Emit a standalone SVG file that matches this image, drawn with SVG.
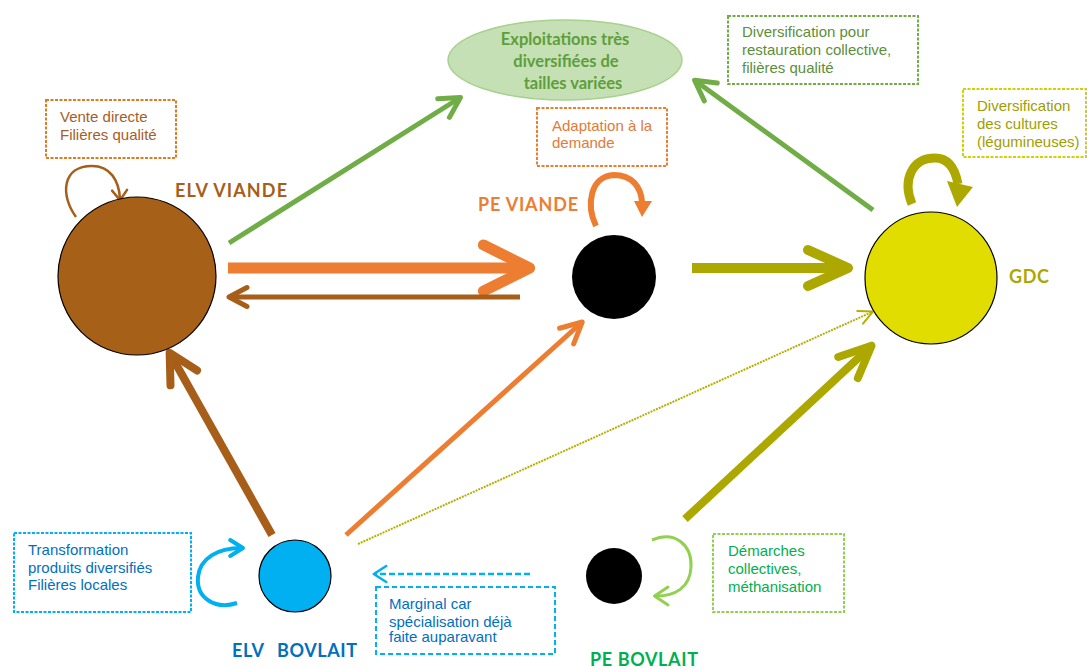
<svg xmlns="http://www.w3.org/2000/svg" width="1087" height="669" viewBox="0 0 1087 669">
<style>
.box{fill:none;stroke-width:2;stroke-dasharray:3 1.5}
.bt{font-family:"Liberation Sans",Arial,sans-serif;font-size:15px}
.lbl{font-family:Lato,"Open Sans",sans-serif;font-weight:bold;font-size:18px}
.ell{font-family:Lato,"Open Sans",sans-serif;font-weight:bold;font-size:16.5px;fill:#5E9E3B;text-anchor:middle}
.ln{fill:none;stroke-linecap:butt}
.loop{fill:none;stroke-linecap:butt}
</style>
<defs>
<marker id="ahGreen" viewBox="-6 -4 8 8" markerWidth="8" markerHeight="8" refX="-0.6" refY="0" orient="auto" markerUnits="strokeWidth"><path d="M -4 -2.2 L 0 0 L -4 2.2" fill="none" stroke="#70AD47" stroke-width="1" stroke-linecap="round" stroke-linejoin="round"/></marker>
<marker id="ahOrange" viewBox="-6 -4 8 8" markerWidth="8" markerHeight="8" refX="-0.6" refY="0" orient="auto" markerUnits="strokeWidth"><path d="M -4.2 -2.1 L 0 0 L -4.2 2.1" fill="none" stroke="#ED7D31" stroke-width="1" stroke-linecap="round" stroke-linejoin="round"/></marker>
<marker id="ahBrown" viewBox="-6 -4 8 8" markerWidth="8" markerHeight="8" refX="-0.6" refY="0" orient="auto" markerUnits="strokeWidth"><path d="M -3.6 -1.9 L 0 0 L -3.6 1.9" fill="none" stroke="#A65E18" stroke-width="1" stroke-linecap="round" stroke-linejoin="round"/></marker>
<marker id="ahOlive" viewBox="-6 -4 8 8" markerWidth="8" markerHeight="8" refX="-0.6" refY="0" orient="auto" markerUnits="strokeWidth"><path d="M -4 -1.8 L 0 0 L -4 1.8" fill="none" stroke="#ADA800" stroke-width="1" stroke-linecap="round" stroke-linejoin="round"/></marker>
<marker id="ahOliveThin" viewBox="-10 -6 12 12" markerWidth="12" markerHeight="12" refX="-0.5" refY="0" orient="auto" markerUnits="strokeWidth"><path d="M -7 -3.5 L 0 0 L -7 3.5" fill="none" stroke="#B5B000" stroke-width="1" stroke-linecap="round" stroke-linejoin="round"/></marker>
<marker id="ahBlue" viewBox="-10 -6 12 12" markerWidth="12" markerHeight="12" refX="-0.5" refY="0" orient="auto" markerUnits="strokeWidth"><path d="M -5 -3.2 L 0 0 L -5 3.2" fill="none" stroke="#00B0F0" stroke-width="1" stroke-linecap="round" stroke-linejoin="round"/></marker>
<marker id="ahLoopBrown" viewBox="-10 -6 12 12" markerWidth="12" markerHeight="12" refX="-0.5" refY="0" orient="auto" markerUnits="strokeWidth"><path d="M -4 -3 L 0 0 L -4 3" fill="none" stroke="#A65E18" stroke-width="1" stroke-linecap="round" stroke-linejoin="round"/></marker>
<marker id="ahLoopBlue" viewBox="-10 -6 12 12" markerWidth="12" markerHeight="12" refX="-0.5" refY="0" orient="auto" markerUnits="strokeWidth"><path d="M -3.2 -2 L 0 0 L -3.2 2" fill="none" stroke="#00B0F0" stroke-width="1" stroke-linecap="round" stroke-linejoin="round"/></marker>
<marker id="ahLoopGreen" viewBox="-10 -6 12 12" markerWidth="12" markerHeight="12" refX="-0.5" refY="0" orient="auto" markerUnits="strokeWidth"><path d="M -4.5 -3 L 0 0 L -4.5 3" fill="none" stroke="#92D050" stroke-width="1" stroke-linecap="round" stroke-linejoin="round"/></marker>
</defs>
<rect width="1087" height="669" fill="#FFFFFF"/>

<g id="connectors">
<line class="ln" x1="229" y1="243" x2="458" y2="99" stroke="#70AD47" stroke-width="5" marker-end="url(#ahGreen)"/>
<line class="ln" x1="228" y1="268" x2="523" y2="268" stroke="#ED7D31" stroke-width="11" marker-end="url(#ahOrange)"/>
<line class="ln" x1="520" y1="297" x2="232" y2="297" stroke="#A65E18" stroke-width="5" marker-end="url(#ahBrown)"/>
<line class="ln" x1="692" y1="268" x2="842" y2="268" stroke="#ADA800" stroke-width="10" marker-end="url(#ahOlive)"/>
<line class="ln" x1="873" y1="210" x2="697" y2="82" stroke="#70AD47" stroke-width="5" marker-end="url(#ahGreen)"/>
<line class="ln" x1="272" y1="535" x2="172" y2="357" stroke="#A65E18" stroke-width="8" marker-end="url(#ahBrown)"/>
<line class="ln" x1="346" y1="535" x2="580" y2="324" stroke="#ED7D31" stroke-width="5" marker-end="url(#ahOrange)"/>
<line class="ln" x1="358" y1="544" x2="872" y2="312" stroke="#B5B000" stroke-width="2" stroke-dasharray="2 1" marker-end="url(#ahOliveThin)"/>
<line class="ln" x1="685" y1="519" x2="868" y2="349" stroke="#ADA800" stroke-width="8" marker-end="url(#ahOlive)"/>
<line class="ln" x1="530" y1="574" x2="375" y2="574" stroke="#00B0F0" stroke-width="2.5" stroke-dasharray="6 3" marker-end="url(#ahBlue)"/>
<path class="loop" d="M 76 217 C 60 195, 62 166, 92 166 C 110 166, 119 180, 120 199" stroke="#A65E18" stroke-width="2.5" marker-end="url(#ahLoopBrown)"/>
<path class="loop" d="M 596 226 C 586 205, 590 176, 614 175 C 632 175, 641 187, 642 202" stroke="#ED7D31" stroke-width="6"/>
<path d="M 634 201 L 652 201 L 642 217 Z" fill="#ED7D31"/>
<path class="loop" d="M 912 204 C 902 180, 912 158, 935 158 C 948 158, 955 168, 958 184" stroke="#ADA800" stroke-width="9"/>
<path d="M 947 181 L 973 187 L 957 207 Z" fill="#ADA800"/>
<path class="loop" d="M 237 603 C 215 610, 196 598, 198 577 C 200 558, 218 548, 241 548" stroke="#00B0F0" stroke-width="4" marker-end="url(#ahLoopBlue)"/>
<path class="loop" d="M 652 540 C 675 530, 692 545, 691 567 C 690 588, 675 596, 656 596" stroke="#92D050" stroke-width="3" marker-end="url(#ahLoopGreen)"/>
</g>

<g id="node-elv-viande">
<circle cx="137" cy="276" r="79" fill="#A66017" stroke="#000" stroke-width="1.2"/>
<text class="lbl" x="175" y="197" fill="#A65E18" textLength="112">ELV VIANDE</text>
</g>
<g id="note-vente-directe">
<rect class="box" x="46" y="100" width="130" height="58" stroke="#E07B24"/>
<text class="bt" fill="#A65E28"><tspan x="60" y="122">Vente directe</tspan><tspan x="60" y="140">Filières qualité</tspan></text>
</g>

<g id="node-exploitations">
<ellipse cx="565" cy="60" rx="117" ry="40" fill="#C5E0B4" stroke="#A9D18E" stroke-width="1.5"/>
<text class="ell"><tspan x="565" y="45">Exploitations très</tspan><tspan x="566" y="67">diversifiées de</tspan><tspan x="573" y="89">tailles variées</tspan></text>
</g>

<g id="note-adaptation">
<rect class="box" x="537" y="108" width="130" height="58" stroke="#ED7D31"/>
<text class="bt" fill="#E07B39"><tspan x="552" y="131">Adaptation à la</tspan><tspan x="552" y="148">demande</tspan></text>
</g>

<g id="node-pe-viande">
<circle cx="614" cy="277" r="42" fill="#000"/>
<text class="lbl" x="478" y="211" fill="#ED7D31" textLength="100">PE VIANDE</text>
</g>

<g id="note-div-restauration">
<rect class="box" x="728" y="16" width="190" height="68" stroke="#70AD47"/>
<text class="bt" fill="#5B8F3A"><tspan x="742" y="37">Diversification pour</tspan><tspan x="742" y="55">restauration collective,</tspan><tspan x="742" y="73">filières qualité</tspan></text>
</g>

<g id="node-gdc">
<circle cx="931" cy="278" r="66" fill="#E2DD00" stroke="#000" stroke-width="1.2"/>
<text class="lbl" x="1009" y="283" fill="#ADA800" textLength="40">GDC</text>
</g>
<g id="note-div-cultures">
<rect class="box" x="963" y="89" width="123" height="68" stroke="#D4CF00"/>
<text class="bt" fill="#A19E00"><tspan x="977" y="111">Diversification</tspan><tspan x="977" y="129">des cultures</tspan><tspan x="977" y="147">(légumineuses)</tspan></text>
</g>

<g id="node-elv-bovlait">
<circle cx="295" cy="576" r="36" fill="#00B0F0" stroke="#000" stroke-width="1.2"/>
<text class="lbl" x="232" y="657" fill="#0070C0" textLength="32">ELV</text>
<text class="lbl" x="277" y="657" fill="#0070C0" textLength="80">BOVLAIT</text>
</g>
<g id="note-transformation">
<rect class="box" x="14" y="533" width="177" height="79" stroke="#00B0F0"/>
<text class="bt" fill="#0070C0"><tspan x="28" y="555">Transformation</tspan><tspan x="28" y="573">produits diversifiés</tspan><tspan x="28" y="590">Filières locales</tspan></text>
</g>

<g id="note-marginal">
<rect x="376" y="587" width="179" height="67" fill="none" stroke="#00B0F0" stroke-width="2" stroke-dasharray="5 3"/>
<text class="bt" fill="#0070C0"><tspan x="389" y="609">Marginal car</tspan><tspan x="389" y="627">spécialisation déjà</tspan><tspan x="389" y="642">faite auparavant</tspan></text>
</g>

<g id="node-pe-bovlait">
<circle cx="614" cy="576" r="28" fill="#000"/>
<text class="lbl" x="590" y="666" fill="#00B050" textLength="108">PE BOVLAIT</text>
</g>
<g id="note-demarches">
<rect class="box" x="713" y="534" width="131" height="78" stroke="#92D050"/>
<text class="bt" fill="#00B050"><tspan x="728" y="556">Démarches</tspan><tspan x="728" y="574">collectives,</tspan><tspan x="728" y="592">méthanisation</tspan></text>
</g>
</svg>
